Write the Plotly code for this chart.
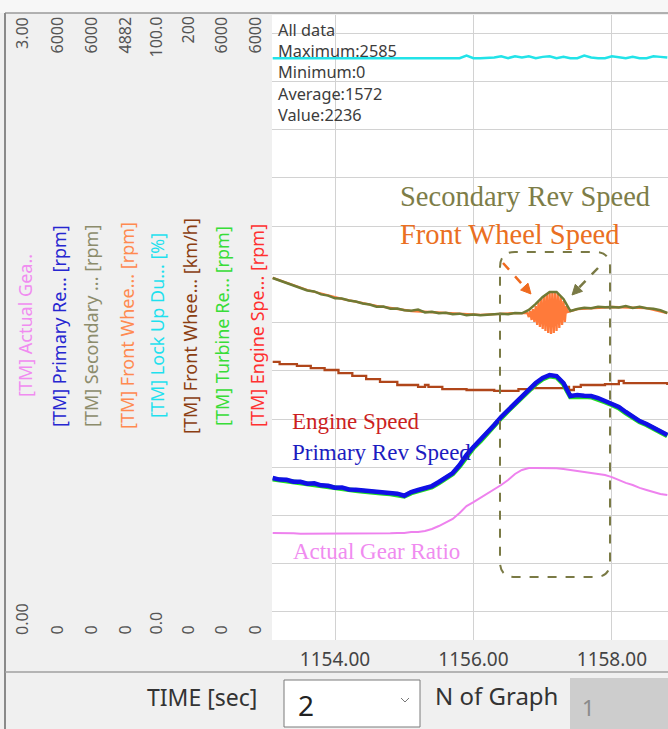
import plotly.graph_objects as go

W, H = 668, 729

# ---------------- data ----------------
T = [1153.1, 1153.2, 1153.3, 1153.4, 1153.5, 1153.6, 1153.7, 1153.8, 1153.9, 1154.0,
     1154.1, 1154.2, 1154.3, 1154.4, 1154.5, 1154.6, 1154.7, 1154.8, 1154.9, 1155.0,
     1155.1, 1155.2, 1155.3, 1155.4, 1155.5, 1155.6, 1155.7, 1155.8, 1155.9, 1156.0,
     1156.1, 1156.2, 1156.3, 1156.4, 1156.5, 1156.6, 1156.7, 1156.8, 1156.9, 1157.0,
     1157.1, 1157.2, 1157.3, 1157.4, 1157.5, 1157.6, 1157.7, 1157.8, 1157.9, 1158.0,
     1158.1, 1158.2, 1158.3, 1158.4, 1158.5, 1158.6, 1158.7, 1158.8]

secondary_rpm = [3475, 3450, 3432, 3400, 3375, 3355, 3346, 3318, 3306, 3280,
                 3278, 3259, 3250, 3230, 3220, 3200, 3201, 3180, 3182, 3165,
                 3160, 3172, 3145, 3152, 3136, 3142, 3128, 3133, 3118, 3124,
                 3117, 3122, 3128, 3133, 3127, 3140, 3136, 3168, 3226, 3293,
                 3341, 3341, 3274, 3158, 3178, 3190, 3184, 3200, 3194, 3198,
                 3193, 3206, 3187, 3200, 3184, 3180, 3165, 3139]

primary_rpm = [1555, 1540, 1538, 1520, 1519, 1500, 1505, 1485, 1480, 1462,
               1465, 1445, 1442, 1436, 1425, 1423, 1415, 1412, 1405, 1385,
               1421, 1440, 1459, 1478, 1517, 1555, 1603, 1680, 1776, 1853,
               1920, 1997, 2064, 2141, 2208, 2275, 2342, 2410, 2467, 2515,
               2544, 2534, 2467, 2342, 2352, 2345, 2342, 2323, 2294, 2266,
               2237, 2189, 2141, 2102, 2074, 2035, 2006, 1968]

turbine_rpm = [1545, 1535, 1528, 1515, 1510, 1495, 1495, 1478, 1472, 1455,
               1456, 1440, 1434, 1428, 1418, 1415, 1408, 1404, 1398, 1380,
               1412, 1432, 1450, 1470, 1508, 1545, 1595, 1670, 1765, 1845,
               1910, 1988, 2055, 2132, 2200, 2265, 2333, 2400, 2458, 2505,
               2535, 2525, 2458, 2336, 2343, 2338, 2333, 2315, 2285, 2258,
               2228, 2180, 2132, 2094, 2066, 2027, 1998, 1960]

gear_ratio = [0.514, 0.514, 0.512, 0.512, 0.510, 0.510, 0.509, 0.509, 0.509, 0.509,
              0.509, 0.509, 0.509, 0.509, 0.509, 0.509, 0.509, 0.512, 0.514, 0.514,
              0.518, 0.518, 0.523, 0.533, 0.547, 0.566, 0.581, 0.610, 0.643, 0.662,
              0.682, 0.706, 0.725, 0.744, 0.768, 0.797, 0.816, 0.826, 0.826, 0.826,
              0.826, 0.824, 0.821, 0.816, 0.811, 0.806, 0.802, 0.797, 0.792, 0.782,
              0.768, 0.754, 0.744, 0.730, 0.720, 0.710, 0.701, 0.696]

lockup_duty = [93.1, 93.1, 93.1, 93.1, 93.1, 93.1, 93.1, 93.1, 93.1, 93.1,
               93.1, 93.1, 93.1, 93.1, 93.1, 93.1, 93.1, 93.1, 93.1, 93.1,
               93.1, 93.1, 93.1, 93.1, 93.1, 93.1, 93.1, 93.1, 93.5, 93.1,
               93.1, 93.1, 93.2, 93.4, 93.1, 93.4, 93.2, 93.4, 93.1, 93.3,
               93.4, 93.1, 93.3, 93.1, 93.1, 93.5, 93.2, 93.1, 93.1, 93.4,
               93.2, 93.1, 93.3, 93.1, 93.1, 93.4, 93.3, 93.2]

fw_kmh_t = [1153.10, 1153.20, 1153.45, 1153.65, 1153.85, 1154.05, 1154.25, 1154.45, 1154.65, 1154.90,
            1155.20, 1155.30, 1155.35, 1155.55, 1155.90, 1156.30, 1156.65, 1156.85, 1157.30, 1157.38,
            1157.45, 1157.55, 1157.90, 1158.10, 1158.17, 1158.80]
fw_kmh = [89.0, 88.3, 87.7, 87.0, 86.4, 85.4, 84.5, 83.5, 82.6, 81.6,
          81.0, 81.6, 81.0, 80.3, 80.0, 79.7, 80.3, 80.6, 81.0, 80.0,
          81.0, 81.6, 81.9, 82.9, 82.2, 81.6]

fw_rpm_t = [1153.1, 1153.6, 1154.1, 1154.6, 1155.1, 1155.6, 1156.1, 1156.6,
            1156.78, 1156.80, 1156.82, 1156.84, 1156.86, 1156.88, 1156.90, 1156.92, 1156.94, 1156.96,
            1156.98, 1157.00, 1157.02, 1157.04, 1157.06, 1157.08, 1157.10, 1157.12, 1157.14, 1157.16,
            1157.18, 1157.20, 1157.22, 1157.24, 1157.26, 1157.28, 1157.30, 1157.32, 1157.34, 1157.36,
            1157.5, 1158.0, 1158.5, 1158.8]
fw_rpm = [2828, 2734, 2664, 2609, 2570, 2554, 2539, 2554,
          2554, 2523, 2570, 2500, 2585, 2484, 2609, 2461, 2640, 2445,
          2664, 2429, 2687, 2414, 2703, 2398, 2711, 2390, 2718, 2398,
          2711, 2414, 2703, 2437, 2679, 2461, 2648, 2484, 2609, 2562,
          2585, 2601, 2593, 2554]

channel_labels = ["[TM] Actual Gea..", "[TM] Primary Re... [rpm]", "[TM] Secondary ... [rpm]",
                  "[TM] Front Whee... [rpm]", "[TM] Lock Up Du... [%]", "[TM] Front Whee... [km/h]",
                  "[TM] Turbine Re... [rpm]", "[TM] Engine Spe... [rpm]"]
channel_max = ["3.00", "6000", "6000", "4882", "100.0", "200", "6000", "6000"]
channel_min = ["0.00", "0", "0", "0", "0.0", "0", "0", "0"]
channel_colors = ["#f08cf0", "#2626d0", "#8c8c6c", "#ff8a50", "#1fe0ee", "#8b3e12", "#38dd38", "#ff3030"]

stats_lines = ["All data", "Maximum:2585", "Minimum:0", "Average:1572", "Value:2236"]
time_ticks = [1154, 1156, 1158]

# ---------------- helpers ----------------
def px(x):
    return x / W

def py(y):
    return 1 - y / H

PLOT_L, PLOT_T, PLOT_B = 272, 15, 640

fig = go.Figure()

# traces; layer order follows axis order: y (lock-up) < y2 (gear) < y3 (km/h) < y4 (front rpm) < y5 (rpm)
fig.add_trace(go.Scatter(x=T, y=lockup_duty, yaxis="y", mode="lines",
                         line=dict(color="#22e3e8", width=2.5), name="Lock Up Duty"))
fig.add_trace(go.Scatter(x=T, y=gear_ratio, yaxis="y2", mode="lines",
                         line=dict(color="#ee82ee", width=2), name="Actual Gear Ratio"))
fig.add_trace(go.Scatter(x=fw_kmh_t, y=fw_kmh, yaxis="y3", mode="lines",
                         line=dict(color="#b0461a", width=2.3, shape="hv"), name="Front Wheel km/h"))
fig.add_trace(go.Scatter(x=fw_rpm_t, y=fw_rpm, yaxis="y4", mode="lines",
                         line=dict(color="#ff7a3a", width=2.3), name="Front Wheel rpm"))
fig.add_trace(go.Scatter(x=T, y=secondary_rpm, yaxis="y5", mode="lines",
                         line=dict(color="#6f7a35", width=2.5), name="Secondary Rev Speed"))
fig.add_trace(go.Scatter(x=T, y=turbine_rpm, yaxis="y5", mode="lines",
                         line=dict(color="#22dd22", width=5), name="Turbine"))
fig.add_trace(go.Scatter(x=T, y=primary_rpm, yaxis="y5", mode="lines",
                         line=dict(color="#1010e6", width=4.5), name="Primary Rev Speed"))

dom_y = [1 - PLOT_B / H, 1 - PLOT_T / H]
grid_col = "#d2d2d2"

fig.update_layout(
    width=W, height=H, margin=dict(l=0, r=0, t=0, b=0),
    paper_bgcolor="#f0f0f0", plot_bgcolor="white", showlegend=False,
    xaxis=dict(domain=[PLOT_L / W, 1], range=[1153.09, 1158.81], tickvals=time_ticks,
               tickformat=".2f", showgrid=True, gridcolor=grid_col, zeroline=False,
               showline=False, ticks="outside", ticklen=2, tickcolor="rgba(0,0,0,0)",
               tickfont=dict(family="Noto Sans", size=19, color="#444444")),
    yaxis=dict(domain=dom_y, range=[0, 100], tick0=4.483, dtick=7.717, showgrid=True,
               gridcolor=grid_col, showticklabels=False, zeroline=False, ticks=""),
    yaxis2=dict(range=[0, 3], overlaying="y", visible=False),
    yaxis3=dict(range=[0, 200], overlaying="y", visible=False),
    yaxis4=dict(range=[0, 4882], overlaying="y", visible=False),
    yaxis5=dict(range=[0, 6000], overlaying="y", visible=False),
)

ann = []

def txt(x, y, s, size, color, family="Noto Sans", xanchor="left", yanchor="middle", angle=0,
        align="left"):
    ann.append(dict(x=px(x), y=py(y), xref="paper", yref="paper", text=s, showarrow=False,
                    xanchor=xanchor, yanchor=yanchor, textangle=angle, align=align,
                    font=dict(family=family, size=size, color=color)))

# left panel channel labels
tick_x = [22, 56, 90, 124, 155, 187, 220, 254]
label_x = [25, 59, 91, 127, 157, 190, 222, 257]
for i in range(8):
    txt(label_x[i], 326, channel_labels[i], 18, channel_colors[i], xanchor="center", angle=-90)
    txt(tick_x[i], 15, channel_max[i], 16, "#555555", xanchor="center", yanchor="top", angle=-90)
    txt(tick_x[i], 637, channel_min[i], 16, "#555555", xanchor="center", yanchor="bottom", angle=-90)

# stats text (one block)
txt(276, 17, "<br>".join(stats_lines), 16.3, "#3c3c3c", yanchor="top")

# chart annotations (serif)
serif = "Liberation Serif"
txt(398, 197, "Secondary Rev Speed", 28.5, "#7d7d48", family=serif)
txt(398, 234, "Front Wheel Speed", 28.5, "#ea6f22", family=serif)
txt(290, 421, "Engine Speed", 23, "#cc1f1f", family=serif)
txt(290, 453, "Primary Rev Speed", 23, "#1c1cc0", family=serif)
txt(291, 551, "Actual Gear Ratio", 23, "#f08cf0", family=serif)

# bottom bar
txt(259, 697, "TIME [sec]", 23, "#333333", xanchor="right")
txt(296, 705, "2", 28, "#222222")
txt(433, 695, "N of Graph", 24, "#333333")
txt(580, 707, "1", 22, "#8a8a8a")

fig.update_layout(annotations=ann)

shapes = []

def line(x0, y0, x1, y1, color, width=1, dash="solid"):
    shapes.append(dict(type="line", xref="paper", yref="paper", x0=px(x0), y0=py(y0),
                       x1=px(x1), y1=py(y1), line=dict(color=color, width=width, dash=dash)))

def rect(x0, y0, x1, y1, fill, lc="rgba(0,0,0,0)", lw=0, layer="below"):
    shapes.append(dict(type="rect", xref="paper", yref="paper", x0=px(x0), y0=py(y0),
                       x1=px(x1), y1=py(y1), fillcolor=fill, line=dict(color=lc, width=lw),
                       layer=layer))

def path(points, color, fill=None, width=2, dash="solid"):
    shapes.append(dict(type="path", xref="paper", yref="paper", path=points,
                       line=dict(color=color, width=width, dash=dash),
                       fillcolor=fill if fill else "rgba(0,0,0,0)", layer="above"))

def P(x, y):
    return f"{px(x):.5f},{py(y):.5f}"

# frame
rect(0, 0, W, 13, "#f7f7f7")
line(5, 13, W, 13, "#9a9a9a", 1.5)
line(5, 13, 5, H, "#8a8a8a", 2)
line(5, 672, W, 672, "#a0a0a0", 1.5)

# dropdown box and disabled box
rect(284, 680, 420, 727, "white", "#7a7a7a", 1, layer="above")
rect(570, 678, W, H, "#cdcdcd", layer="above")
shapes.append(dict(type="path", xref="paper", yref="paper",
                   path=f"M {P(401, 698)} L {P(405, 702)} L {P(409, 698)}",
                   line=dict(color="#777777", width=1)))

# dashed rounded box
olive = "#7a7a45"
r = 15
x0b, x1b, y0b, y1b = 500, 610, 252, 577
box = (f"M {P(x0b, y0b + r)} Q {P(x0b, y0b)} {P(x0b + r, y0b)} L {P(x1b - r, y0b)} "
       f"Q {P(x1b, y0b)} {P(x1b, y0b + r)} L {P(x1b, y1b - r)} Q {P(x1b, y1b)} {P(x1b - r, y1b)} "
       f"L {P(x0b + r, y1b)} Q {P(x0b, y1b)} {P(x0b, y1b - r)} Z")
path(box, olive, width=2, dash="dash")

# arrows
line(503, 263, 524.3, 286.6, "#ef6a1f", 2.5, "dash")
path(f"M {P(531, 294)} L {P(520.6, 290)} L {P(528, 283.2)} Z", "#ef6a1f", fill="#ef6a1f", width=1)
line(598, 268, 578.9, 287.8, olive, 2.5, "dash")
path(f"M {P(572, 295)} L {P(575.3, 284.3)} L {P(582.5, 291.3)} Z", olive, fill=olive, width=1)

fig.update_layout(shapes=shapes)

fig.write_html("out.html", config={"displayModeBar": False},
               post_script="document.body.style.margin='0px';")
